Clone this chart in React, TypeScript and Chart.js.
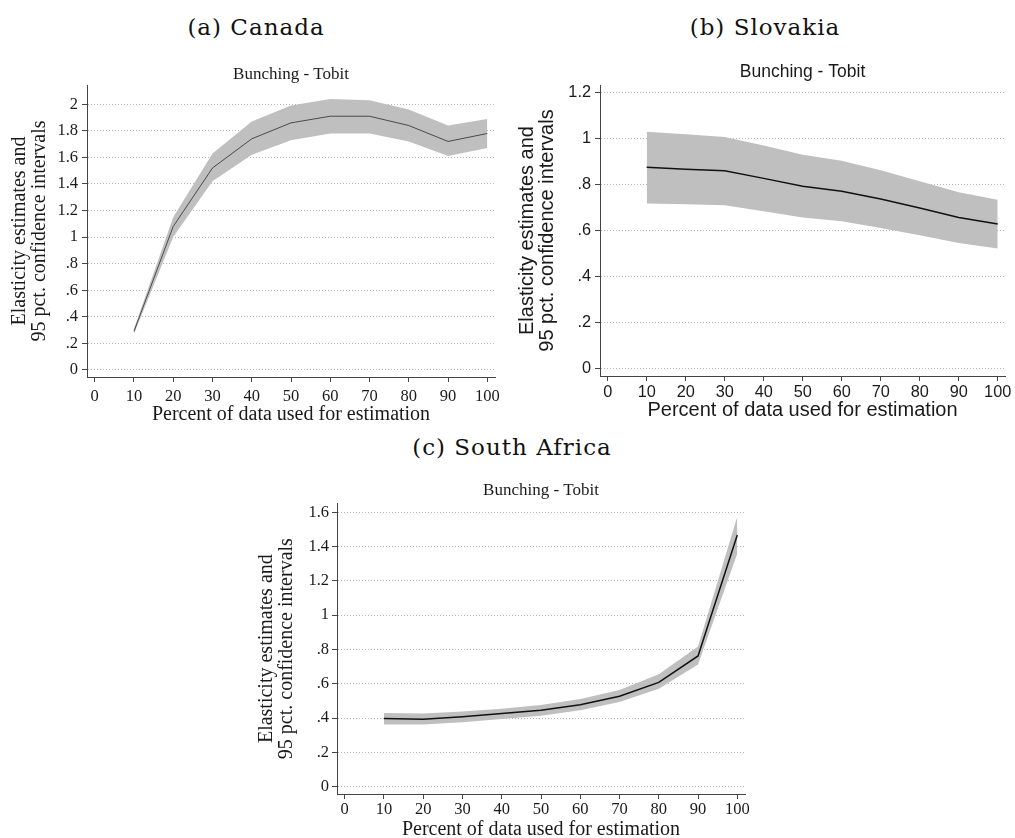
import React, { useEffect, useRef } from 'react';
import { Chart, registerables } from 'chart.js';

Chart.register(...registerables);

// ---------- data ----------
const pct = [10, 20, 30, 40, 50, 60, 70, 80, 90, 100];

const canadaEst = [0.29, 1.08, 1.52, 1.74, 1.86, 1.91, 1.91, 1.84, 1.72, 1.78];
const canadaLo = [0.27, 1.0, 1.42, 1.62, 1.73, 1.78, 1.78, 1.72, 1.61, 1.67];
const canadaHi = [0.31, 1.15, 1.63, 1.87, 1.99, 2.04, 2.03, 1.96, 1.84, 1.89];

const slovakiaEst = [0.875, 0.867, 0.86, 0.827, 0.793, 0.771, 0.737, 0.698, 0.657, 0.628];
const slovakiaLo = [0.718, 0.714, 0.71, 0.684, 0.657, 0.64, 0.611, 0.579, 0.546, 0.522];
const slovakiaHi = [1.03, 1.019, 1.007, 0.97, 0.93, 0.904, 0.862, 0.814, 0.766, 0.734];

const safricaEst = [0.397, 0.393, 0.408, 0.426, 0.445, 0.478, 0.527, 0.608, 0.762, 1.467];
const safricaLo = [0.362, 0.362, 0.375, 0.395, 0.414, 0.445, 0.494, 0.571, 0.712, 1.36];
const safricaHi = [0.43, 0.426, 0.439, 0.455, 0.476, 0.511, 0.564, 0.655, 0.817, 1.575];

const chartTitle = 'Bunching - Tobit';
const xTitle = 'Percent of data used for estimation';
const yTitle = ['Elasticity estimates and', '95 pct. confidence intervals'];

// ---------- styles ----------
const BAND = '#bfbfbf';
const AXIS = '#444444';
const GRID = '#b4b4b4';
const TEXT = '#1a1a1a';
const SERIF = "'Liberation Serif', 'Times New Roman', serif";
const SANS = "'Liberation Sans', Arial, sans-serif";

const fmtTick = (v: number | string) => {
  const n = Math.round(Number(v) * 10) / 10;
  if (n === 0) return '0';
  return String(n).replace(/^0\./, '.');
};

type PanelCfg = {
  est: number[];
  lo: number[];
  hi: number[];
  left: number;
  top: number;
  width: number;
  height: number;
  padRight: number;
  yWidth: number;
  xHeight: number;
  family: string;
  titleSize: number;
  titlePadTop: number;
  titlePadBottom: number;
  tickSize: number;
  yTickPad: number;
  xTickPad: number;
  axisTitleSize: number;
  yTitlePadTop: number;
  xTitlePadBottom: number;
  yMin: number;
  yMax: number;
  xMin: number;
  xMax: number;
  lineColor: string;
  lineWidth: number;
};

function Panel({ cfg }: { cfg: PanelCfg }) {
  const ref = useRef<HTMLCanvasElement | null>(null);
  useEffect(() => {
    if (!ref.current) return;
    const c = cfg;
    const chart = new Chart(ref.current, {
      type: 'line',
      data: {
        datasets: [
          {
            // point estimate (index 0 is drawn last, i.e. on top)
            data: pct.map((x, i) => ({ x, y: c.est[i] })),
            borderColor: c.lineColor,
            borderWidth: c.lineWidth,
            pointRadius: 0,
            fill: false,
            tension: 0,
          },
          {
            data: pct.map((x, i) => ({ x, y: c.lo[i] })),
            borderColor: 'rgba(0,0,0,0)',
            borderWidth: 0,
            pointRadius: 0,
            fill: false,
          },
          {
            data: pct.map((x, i) => ({ x, y: c.hi[i] })),
            borderColor: 'rgba(0,0,0,0)',
            borderWidth: 0,
            pointRadius: 0,
            backgroundColor: BAND,
            fill: '-1',
          },
        ],
      },
      options: {
        animation: false,
        responsive: false,
        devicePixelRatio: 1,
        events: [],
        layout: { padding: { left: 0, right: c.padRight, top: 0, bottom: 0 } },
        plugins: {
          legend: { display: false },
          tooltip: { enabled: false },
          title: {
            display: true,
            text: chartTitle,
            fullSize: false,
            color: TEXT,
            font: { family: c.family, size: c.titleSize, weight: 'normal', lineHeight: 1.2 },
            padding: { top: c.titlePadTop, bottom: c.titlePadBottom },
          },
        },
        scales: {
          x: {
            type: 'linear',
            min: c.xMin,
            max: c.xMax,
            afterFit: (s: any) => {
              s.height = c.xHeight;
            },
            grid: {
              drawOnChartArea: false,
              drawTicks: true,
              tickLength: 5,
              tickColor: AXIS,
              tickWidth: 1,
            },
            border: { display: true, color: AXIS, width: 1 },
            ticks: {
              stepSize: 10,
              includeBounds: false,
              autoSkip: false,
              maxRotation: 0,
              minRotation: 0,
              color: TEXT,
              padding: c.xTickPad,
              font: { family: c.family, size: c.tickSize, lineHeight: 1.2 },
            },
            title: {
              display: true,
              text: xTitle,
              color: TEXT,
              font: { family: c.family, size: c.axisTitleSize, lineHeight: 1 },
              padding: { top: 0, bottom: c.xTitlePadBottom },
            },
          },
          y: {
            type: 'linear',
            min: c.yMin,
            max: c.yMax,
            afterFit: (s: any) => {
              s.width = c.yWidth;
            },
            grid: {
              drawOnChartArea: true,
              drawTicks: true,
              color: GRID,
              lineWidth: 1,
              tickLength: 5,
              tickColor: AXIS,
              tickWidth: 1,
              tickBorderDash: [],
            },
            border: { display: true, color: AXIS, width: 1, dash: [1, 2] },
            ticks: {
              stepSize: 0.2,
              includeBounds: false,
              color: TEXT,
              padding: c.yTickPad,
              font: { family: c.family, size: c.tickSize, lineHeight: 1.2 },
              callback: (v: any) => fmtTick(v),
            },
            title: {
              display: true,
              text: yTitle,
              color: TEXT,
              font: { family: c.family, size: c.axisTitleSize, lineHeight: 1 },
              padding: { top: c.yTitlePadTop, bottom: 0 },
            },
          },
        },
      },
    } as any);
    return () => chart.destroy();
  }, [cfg]);

  return (
    <canvas
      ref={ref}
      width={cfg.width}
      height={cfg.height}
      style={{
        position: 'absolute',
        left: cfg.left,
        top: cfg.top,
        width: cfg.width,
        height: cfg.height,
        display: 'block',
      }}
    />
  );
}

const canadaCfg: PanelCfg = {
  est: canadaEst,
  lo: canadaLo,
  hi: canadaHi,
  left: 0,
  top: 40,
  width: 510,
  height: 390,
  padRight: 15,
  yWidth: 87,
  xHeight: 53,
  family: SERIF,
  titleSize: 17,
  titlePadTop: 24.2,
  titlePadBottom: 0.4,
  tickSize: 16.5,
  yTickPad: 4,
  xTickPad: 4.8,
  axisTitleSize: 20,
  yTitlePadTop: 9.9,
  xTitlePadBottom: 5.3,
  yMin: -0.053,
  yMax: 2.145,
  xMin: -1.96,
  xMax: 101.96,
  lineColor: '#4a4a4a',
  lineWidth: 1,
};

const slovakiaCfg: PanelCfg = {
  est: slovakiaEst,
  lo: slovakiaLo,
  hi: slovakiaHi,
  left: 510,
  top: 40,
  width: 505,
  height: 390,
  padRight: 10,
  yWidth: 90,
  xHeight: 54,
  family: SANS,
  titleSize: 17.5,
  titlePadTop: 21.8,
  titlePadBottom: 2.2,
  tickSize: 16.3,
  yTickPad: 4,
  xTickPad: 1.4,
  axisTitleSize: 20,
  yTitlePadTop: 7.1,
  xTitlePadBottom: 9.2,
  yMin: -0.0335,
  yMax: 1.2335,
  xMin: -1.97,
  xMax: 101.87,
  lineColor: '#111111',
  lineWidth: 1.5,
};

const safricaCfg: PanelCfg = {
  est: safricaEst,
  lo: safricaLo,
  hi: safricaHi,
  left: 250,
  top: 470,
  width: 510,
  height: 372,
  padRight: 15,
  yWidth: 87,
  xHeight: 48,
  family: SERIF,
  titleSize: 17,
  titlePadTop: 10.4,
  titlePadBottom: 2.5,
  tickSize: 16.5,
  yTickPad: 3,
  xTickPad: 1.1,
  axisTitleSize: 20,
  yTitlePadTop: 7.2,
  xTitlePadBottom: 2,
  yMin: -0.0426,
  yMax: 1.652,
  xMin: -1.96,
  xMax: 101.96,
  lineColor: '#111111',
  lineWidth: 1.5,
};

const captionStyle = (cx: number, top: number): React.CSSProperties => ({
  position: 'absolute',
  left: cx - 150,
  top,
  width: 300,
  textAlign: 'center',
  fontFamily: "'DejaVu Serif', serif",
  fontSize: 23,
  lineHeight: '23px',
  letterSpacing: 1,
  color: '#111',
  whiteSpace: 'nowrap',
});

export default function App() {
  return (
    <div
      style={{
        position: 'fixed',
        left: 0,
        top: 0,
        width: 1015,
        height: 838,
        overflow: 'hidden',
        background: '#fff',
      }}
    >
      <div style={captionStyle(256, 15.6)}>(a) Canada</div>
      <div style={captionStyle(765, 15.6)}>(b) Slovakia</div>
      <div style={captionStyle(512, 435.6)}>(c) South Africa</div>
      <Panel cfg={canadaCfg} />
      <Panel cfg={slovakiaCfg} />
      <Panel cfg={safricaCfg} />
    </div>
  );
}
